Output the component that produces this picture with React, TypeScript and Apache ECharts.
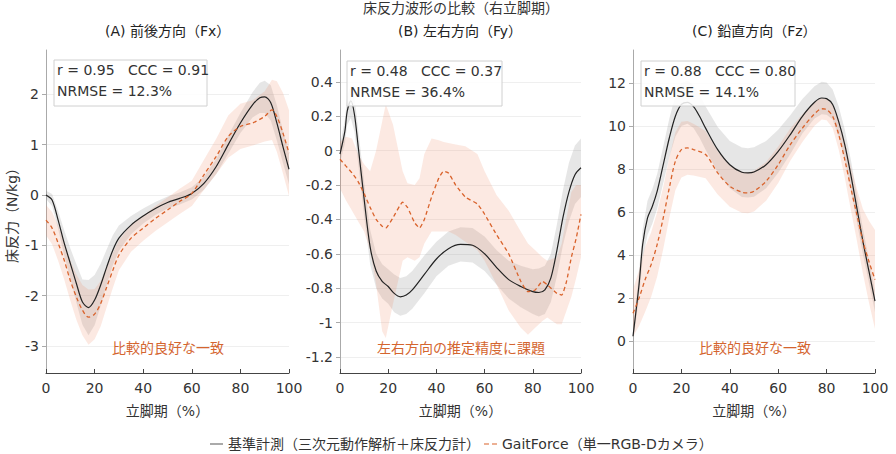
import React, { useEffect, useRef } from "react";
import * as echarts from "echarts";

const FONT = "'DejaVu Sans', 'Noto Sans CJK JP', sans-serif";
const REF_NAME = "基準計測（三次元動作解析＋床反力計）";
const GF_NAME = "GaitForce（単一RGB-Dカメラ）";
const MAIN_TITLE = "床反力波形の比較（右立脚期）";
const X_NAME = "立脚期（%）";
const Y_NAME = "床反力（N/kg）";

// ---------- Panel A: 前後方向 (Fx) ----------
const aRefX = [0, 2.5, 5, 7.5, 10, 12.5, 15, 17.5, 20, 22.5, 25, 27.5, 30, 35, 40, 45, 50, 55, 60, 65, 70, 75, 80, 85, 88, 90, 92.5, 95, 97.5, 100];
const aRefY = [0.0, -0.1, -0.5, -0.96, -1.36, -1.76, -2.13, -2.24, -2.09, -1.79, -1.43, -1.1, -0.86, -0.6, -0.42, -0.27, -0.15, -0.07, 0.03, 0.23, 0.56, 1.0, 1.43, 1.79, 1.93, 1.95, 1.83, 1.43, 0.96, 0.51];
const aRefSd = [0.08, 0.12, 0.18, 0.25, 0.3, 0.38, 0.45, 0.55, 0.5, 0.42, 0.35, 0.3, 0.25, 0.18, 0.15, 0.13, 0.12, 0.12, 0.12, 0.13, 0.15, 0.18, 0.2, 0.25, 0.3, 0.32, 0.35, 0.35, 0.32, 0.3];
const aGfX = [0, 2.5, 5, 7.5, 10, 12.5, 15, 17.5, 20, 22.5, 25, 27.5, 30, 35, 40, 45, 50, 55, 60, 65, 70, 75, 80, 85, 90, 93, 95, 97.5, 100];
const aGfY = [-0.5, -0.66, -0.96, -1.3, -1.7, -2.03, -2.29, -2.43, -2.37, -2.16, -1.83, -1.5, -1.2, -0.86, -0.66, -0.47, -0.3, -0.13, 0.03, 0.4, 0.76, 1.16, 1.36, 1.43, 1.56, 1.69, 1.56, 1.23, 0.83];
const aGfSd = [0.3, 0.32, 0.35, 0.38, 0.4, 0.45, 0.5, 0.55, 0.5, 0.45, 0.4, 0.35, 0.3, 0.27, 0.25, 0.25, 0.25, 0.25, 0.25, 0.3, 0.35, 0.42, 0.45, 0.45, 0.5, 0.6, 0.7, 0.8, 0.85];

// ---------- Panel B: 左右方向 (Fy) ----------
const bRefX = [0, 2, 3, 4.5, 6, 7.5, 10, 12.5, 15, 17.5, 20, 22.5, 25, 27.5, 30, 35, 40, 45, 50, 55, 60, 65, 70, 75, 80, 82.5, 85, 87.5, 90, 92.5, 95, 97.5, 100];
const bRefY = [-0.02, 0.11, 0.23, 0.29, 0.21, 0.03, -0.28, -0.56, -0.7, -0.76, -0.79, -0.83, -0.85, -0.84, -0.81, -0.72, -0.63, -0.57, -0.545, -0.55, -0.6, -0.68, -0.75, -0.79, -0.82, -0.825, -0.81, -0.74, -0.58, -0.39, -0.24, -0.14, -0.1];
const bRefSd = [0.05, 0.07, 0.08, 0.1, 0.1, 0.1, 0.1, 0.1, 0.1, 0.1, 0.1, 0.11, 0.11, 0.11, 0.11, 0.11, 0.1, 0.1, 0.1, 0.1, 0.1, 0.1, 0.11, 0.12, 0.13, 0.14, 0.14, 0.14, 0.15, 0.16, 0.17, 0.17, 0.17];
const bGfX = [0, 2.5, 5, 7.5, 10, 12.5, 15, 17.5, 19, 22, 26, 28, 31, 33, 35, 38, 41, 43, 45, 48, 52, 57, 60, 65, 70, 75, 78, 81, 84, 86, 90, 92, 94, 96, 98, 100];
const bGfY = [-0.05, -0.09, -0.13, -0.18, -0.25, -0.33, -0.4, -0.44, -0.45, -0.39, -0.3, -0.33, -0.42, -0.45, -0.4, -0.27, -0.16, -0.12, -0.13, -0.2, -0.27, -0.31, -0.37, -0.49, -0.6, -0.76, -0.82, -0.81, -0.76, -0.78, -0.83, -0.84, -0.76, -0.62, -0.51, -0.37];
const bGfHi = [0.05, 0.08, 0.07, -0.02, -0.08, -0.12, 0.0, 0.17, 0.27, 0.15, -0.12, -0.19, -0.2, -0.16, -0.02, 0.07, 0.06, 0.05, 0.045, 0.035, 0.025, -0.02, -0.12, -0.26, -0.35, -0.47, -0.54, -0.58, -0.62, -0.64, -0.62, -0.54, -0.39, -0.24, -0.2, -0.2];
const bGfLo = [-0.22, -0.29, -0.35, -0.41, -0.47, -0.58, -0.78, -1.05, -1.09, -0.89, -0.64, -0.62, -0.64, -0.62, -0.54, -0.47, -0.47, -0.47, -0.47, -0.49, -0.53, -0.58, -0.64, -0.78, -0.93, -1.03, -1.07, -1.03, -0.99, -0.97, -1.01, -1.01, -0.93, -0.85, -0.74, -0.62];

// ---------- Panel C: 鉛直方向 (Fz) ----------
const cRefX = [0, 2.5, 4, 6, 8, 10, 12.5, 15, 17.5, 20, 22.5, 25, 27.5, 30, 35, 40, 45, 47.5, 50, 55, 60, 65, 70, 75, 78, 80, 82.5, 85, 87.5, 90, 92.5, 95, 97.5, 100];
const cRefY = [0.23, 2.63, 4.5, 5.73, 6.27, 6.97, 8.2, 9.44, 10.45, 11.0, 11.1, 10.9, 10.45, 9.9, 8.9, 8.2, 7.85, 7.82, 7.86, 8.2, 8.82, 9.6, 10.45, 11.1, 11.3, 11.27, 11.0, 10.2, 9.13, 7.74, 6.19, 4.64, 3.25, 1.86];
const cRefSd = [0.3, 0.6, 0.7, 0.8, 0.8, 0.8, 0.85, 0.9, 0.95, 1.0, 1.0, 1.0, 1.0, 1.0, 1.05, 1.1, 1.15, 1.15, 1.15, 1.1, 1.0, 0.9, 0.8, 0.75, 0.75, 0.75, 0.7, 0.7, 0.7, 0.7, 0.65, 0.6, 0.55, 0.5];
const cGfX = [0, 2.5, 5, 7.5, 10, 12.5, 15, 17.5, 20, 22.5, 25, 30, 35, 40, 45, 47.5, 50, 55, 60, 65, 70, 75, 78, 80, 82.5, 85, 87.5, 90, 92.5, 95, 97.5, 100];
const cGfY = [1.3, 2.0, 2.86, 3.56, 4.5, 5.73, 7.12, 8.36, 8.9, 8.98, 8.9, 8.67, 7.82, 7.2, 6.92, 6.89, 6.97, 7.43, 8.2, 9.13, 9.9, 10.56, 10.8, 10.76, 10.45, 9.6, 8.44, 7.12, 5.88, 4.64, 3.7, 2.86];
const cGfSd = [1.1, 1.3, 1.5, 1.5, 1.5, 1.45, 1.4, 1.35, 1.3, 1.25, 1.2, 1.1, 1.0, 0.95, 0.95, 0.95, 0.95, 0.9, 0.85, 0.75, 0.65, 0.55, 0.5, 0.5, 0.55, 0.7, 0.85, 1.0, 1.2, 1.5, 1.9, 2.3];

// ---------- Texts & axes ----------
const panelTitles = ["(A) 前後方向（Fx）", "(B) 左右方向（Fy）", "(C) 鉛直方向（Fz）"];
const statLine1 = ["r = 0.95   CCC = 0.91", "r = 0.48   CCC = 0.37", "r = 0.88   CCC = 0.80"];
const statLine2 = ["NRMSE = 12.3%", "NRMSE = 36.4%", "NRMSE = 14.1%"];
const notes = ["比較的良好な一致", "左右方向の推定精度に課題", "比較的良好な一致"];
const yMin = [-3.54, -1.293, -1.48];
const yMax = [2.88, 0.585, 13.53];
const yStep = [1, 0.2, 2];
const xMin = 0;
const xMax = 100;
const xStep = 20;

const REF_COLOR = "#222222";
const GF_COLOR = "#d9622b";
const NOTE_COLOR = "#d4652f";
const REF_BAND = "rgba(140,140,140,0.22)";
const GF_BAND = "rgba(240,140,100,0.19)";

const pairs = (xs: number[], ys: number[]) => xs.map((x, i) => [x, ys[i]]);
const minus = (ys: number[], sd: number[]) => ys.map((y, i) => y - sd[i]);
const plus = (ys: number[], sd: number[]) => ys.map((y, i) => y + sd[i]);

function bandSeries(xs: number[], lo: number[], hi: number[], color: string, gi: number) {
  const data = xs.map((x, i) => [x, lo[i], hi[i]]);
  return {
    type: "custom",
    xAxisIndex: gi,
    yAxisIndex: gi,
    silent: true,
    clip: true,
    z: 1,
    data,
    encode: { x: 0, y: [1, 2] },
    renderItem: (params: any, api: any) => {
      if (params.dataIndex !== 0) return null;
      const up = data.map((d) => api.coord([d[0], d[2]]));
      const dn = data.map((d) => api.coord([d[0], d[1]])).reverse();
      return {
        type: "polygon",
        shape: { points: up.concat(dn) },
        style: { fill: color, stroke: null },
      };
    },
  };
}

function lineSeries(name: string, xs: number[], ys: number[], gi: number, isRef: boolean, smooth: number) {
  return {
    name,
    type: "line",
    xAxisIndex: gi,
    yAxisIndex: gi,
    data: pairs(xs, ys),
    symbol: "none",
    showSymbol: false,
    smooth,
    z: 3,
    clip: true,
    lineStyle: isRef
      ? { color: REF_COLOR, width: 1.2, type: "solid" }
      : { color: GF_COLOR, width: 1.3, type: [4, 3] },
    itemStyle: { color: isRef ? REF_COLOR : GF_COLOR },
  };
}

const gridBoxes = [
  { left: 46, top: 50, width: 243, height: 323 },
  { left: 340, top: 50, width: 241, height: 323 },
  { left: 633, top: 50, width: 242, height: 323 },
];
const titleLeft = [105, 398, 692];
const boxRects = [
  { x: 54, y: 60, w: 153, h: 46 },
  { x: 347, y: 61, w: 155, h: 45 },
  { x: 641, y: 61, w: 154, h: 45 },
];
const noteCenter = [168, 461, 755];

export default function App() {
  const ref = useRef<HTMLDivElement>(null);
  useEffect(() => {
    document.body.style.margin = "0";
    if (!ref.current) return;
    const chart = echarts.init(ref.current, undefined, { renderer: "svg" });

    const series: any[] = [
      bandSeries(aRefX, minus(aRefY, aRefSd), plus(aRefY, aRefSd), REF_BAND, 0),
      bandSeries(aGfX, minus(aGfY, aGfSd), plus(aGfY, aGfSd), GF_BAND, 0),
      lineSeries(REF_NAME, aRefX, aRefY, 0, true, 0.3),
      lineSeries(GF_NAME, aGfX, aGfY, 0, false, 0.3),
      bandSeries(bRefX, minus(bRefY, bRefSd), plus(bRefY, bRefSd), REF_BAND, 1),
      bandSeries(bGfX, bGfLo, bGfHi, GF_BAND, 1),
      lineSeries(REF_NAME, bRefX, bRefY, 1, true, 0.3),
      lineSeries(GF_NAME, bGfX, bGfY, 1, false, 0.15),
      bandSeries(cRefX, minus(cRefY, cRefSd), plus(cRefY, cRefSd), REF_BAND, 2),
      bandSeries(cGfX, minus(cGfY, cGfSd), plus(cGfY, cGfSd), GF_BAND, 2),
      lineSeries(REF_NAME, cRefX, cRefY, 2, true, 0.3),
      lineSeries(GF_NAME, cGfX, cGfY, 2, false, 0.3),
    ];

    const xAxis = gridBoxes.map((_, i) => ({
      type: "value",
      gridIndex: i,
      min: xMin,
      max: xMax,
      interval: xStep,
      name: X_NAME,
      nameLocation: "middle",
      nameGap: 31,
      nameTextStyle: { fontFamily: FONT, fontSize: 14, color: "#333" },
      axisLine: { show: true, onZero: false, lineStyle: { color: "#444", width: 1 } },
      axisTick: { show: true, inside: true, length: 4, lineStyle: { color: "#444" } },
      axisLabel: { fontFamily: FONT, fontSize: 14, color: "#333", margin: 8 },
      splitLine: { show: false },
    }));

    const yAxis = gridBoxes.map((_, i) => ({
      type: "value",
      gridIndex: i,
      min: yMin[i],
      max: yMax[i],
      minInterval: yStep[i],
      maxInterval: yStep[i],
      splitNumber: Math.round((yMax[i] - yMin[i]) / yStep[i]),
      axisLine: { show: true, onZero: false, lineStyle: { color: "#aaa", width: 1 } },
      axisTick: { show: true, inside: false, length: 4, lineStyle: { color: "#aaa" } },
      axisLabel: {
        fontFamily: FONT,
        fontSize: 14,
        color: "#333",
        margin: 7,
        showMinLabel: false,
        showMaxLabel: false,
      },
      splitLine: { show: true, showMinLine: false, showMaxLine: false, lineStyle: { color: "#efefef", width: 1 } },
    }));

    const graphic: any[] = [
      {
        type: "text",
        left: 363,
        top: 1,
        style: { text: MAIN_TITLE, fontFamily: FONT, fontSize: 14, fill: "#333" },
      },
      {
        type: "text",
        x: 12,
        y: 212,
        rotation: Math.PI / 2,
        style: {
          text: Y_NAME,
          fontFamily: FONT,
          fontSize: 14,
          fill: "#333",
          align: "center",
          verticalAlign: "middle",
        },
      },
    ];
    for (let i = 0; i < 3; i++) {
      graphic.push({
        type: "text",
        x: titleLeft[i],
        y: 31,
        style: { text: panelTitles[i], fontFamily: FONT, fontSize: 14, fill: "#222", verticalAlign: "middle" },
      });
      const b = boxRects[i];
      graphic.push({
        type: "rect",
        shape: { x: b.x, y: b.y, width: b.w, height: b.h },
        style: { fill: "rgba(255,255,255,0.85)", stroke: "#d0d0d0", lineWidth: 1 },
        z: 10,
      });
      graphic.push({
        type: "text",
        x: b.x + 3,
        y: b.y + 10,
        z: 11,
        style: { text: statLine1[i], fontFamily: FONT, fontSize: 14, fill: "#333", verticalAlign: "middle" },
      });
      graphic.push({
        type: "text",
        x: b.x + 3,
        y: b.y + 31,
        z: 11,
        style: { text: statLine2[i], fontFamily: FONT, fontSize: 14, fill: "#333", verticalAlign: "middle" },
      });
      graphic.push({
        type: "text",
        x: noteCenter[i],
        y: 348,
        z: 11,
        style: {
          text: notes[i],
          fontFamily: FONT,
          fontSize: 14,
          fill: NOTE_COLOR,
          align: "center",
          verticalAlign: "middle",
        },
      });
    }

    chart.setOption({
      animation: false,
      backgroundColor: "#ffffff",
      textStyle: { fontFamily: FONT },
      grid: gridBoxes.map((g) => ({ ...g, containLabel: false, outerBoundsMode: "none" })),
      xAxis,
      yAxis,
      legend: {
        data: [
          { name: REF_NAME, icon: "path://M0,0h13v1h-13z", itemStyle: { color: "#555" } },
          { name: GF_NAME, icon: "path://M0,0h5v1h-5zM8,0h5v1h-5z", itemStyle: { color: GF_COLOR } },
        ],
        left: 205,
        top: 432,
        itemWidth: 13,
        itemHeight: 1.2,
        itemGap: 4,
        textStyle: { fontFamily: FONT, fontSize: 14, color: "#333" },
      },
      series,
      graphic,
    });
    return () => chart.dispose();
  }, []);
  return <div ref={ref} style={{ width: 896, height: 454 }} />;
}
